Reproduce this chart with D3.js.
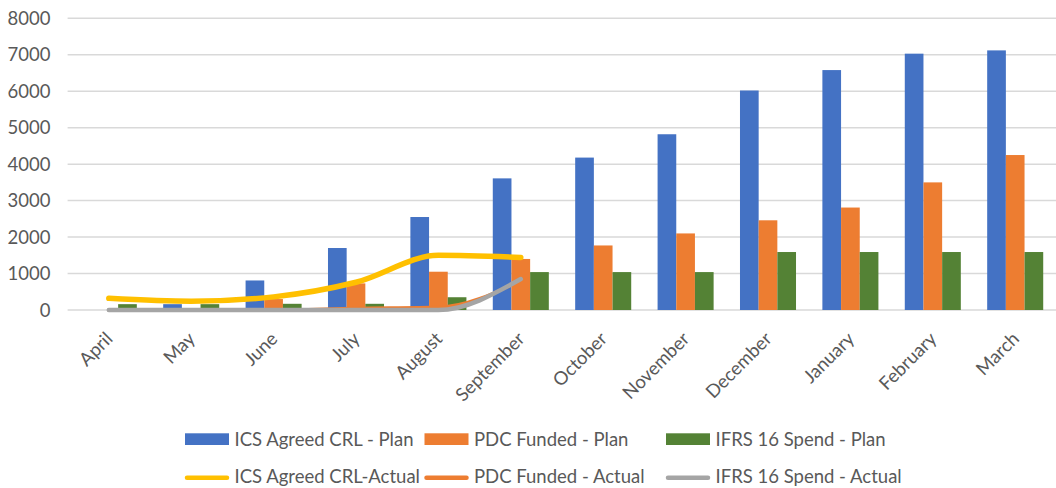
<!DOCTYPE html>
<html>
<head>
<meta charset="utf-8">
<script src="https://cdn.jsdelivr.net/npm/d3@7"></script>
<style>
  body { margin: 0; background: #fff; }
  text { font-family: Lato, "Liberation Sans", sans-serif; fill: #595959; }
</style>
</head>
<body>
<div class="canvas"></div>
<script>
const months = ['April', 'May', 'June', 'July', 'August', 'September', 'October',
                'November', 'December', 'January', 'February', 'March']

// plan series (bars)
const icsPlan = [0, 160, 810, 1700, 2550, 3610, 4180, 4820, 6020, 6580, 7030, 7120]
const pdcPlan = [0, 0, 300, 730, 1050, 1400, 1770, 2100, 2460, 2810, 3500, 4250]
const ifrsPlan = [160, 160, 170, 170, 350, 1040, 1040, 1040, 1590, 1590, 1590, 1590]

// actual series (lines, April - September only)
const icsActual = [320, 240, 360, 760, 1500, 1440]
const pdcActual = [0, 0, 0, 50, 80, 800]
const ifrsActual = [0, 0, 0, 0, 0, 850]

const yTicks = [0, 1000, 2000, 3000, 4000, 5000, 6000, 7000, 8000]

const barSeries = [
  {name: 'ICS Agreed CRL - Plan', values: icsPlan, color: '#4472C4'},
  {name: 'PDC Funded - Plan', values: pdcPlan, color: '#ED7D31'},
  {name: 'IFRS 16 Spend - Plan', values: ifrsPlan, color: '#548235'}
]
const lineSeries = [
  {name: 'ICS Agreed CRL-Actual', values: icsActual, color: '#FFC000', width: 5.5},
  {name: 'PDC Funded - Actual', values: pdcActual, color: '#ED7D31', width: 3},
  {name: 'IFRS 16 Spend - Actual', values: ifrsActual, color: '#A5A5A5', width: 4.5}
]

const dims = {width: 1056, height: 488}
const plot = {left: 67.6, right: 1056.4, top: 18.3, bottom: 310}

const svg = d3.select('.canvas').append('svg')
    .attr('width', dims.width)
    .attr('height', dims.height)

const y = d3.scaleLinear().domain([0, 8000]).range([plot.bottom, plot.top])

const x0 = d3.scaleBand()
    .domain(months)
    .range([plot.left, plot.right])
    .paddingInner(0.32)
    .paddingOuter(0.16)

const x1 = d3.scaleBand()
    .domain(barSeries.map(d => d.name))
    .range([0, x0.bandwidth()])

// gridlines
svg.append('g').selectAll('line')
    .data(yTicks)
    .enter()
      .append('line')
      .attr('x1', plot.left)
      .attr('x2', dims.width)
      .attr('y1', d => y(d))
      .attr('y2', d => y(d))
      .attr('stroke', '#D9D9D9')
      .attr('stroke-width', 1.5)

// y labels
svg.append('g').selectAll('text')
    .data(yTicks)
    .enter()
      .append('text')
      .text(d => d)
      .attr('x', 50.5)
      .attr('y', d => y(d))
      .attr('dy', '0.36em')
      .attr('text-anchor', 'end')
      .style('font-size', '18.5px')

// bars
const groups = svg.append('g').selectAll('g')
    .data(barSeries)
    .enter()
      .append('g')
      .attr('fill', d => d.color)

groups.selectAll('rect')
    .data(s => s.values.map((v, i) => ({name: s.name, month: months[i], value: v})))
    .enter()
      .append('rect')
      .attr('x', d => x0(d.month) + x1(d.name))
      .attr('width', x1.bandwidth())
      .attr('y', d => y(d.value))
      .attr('height', d => y(0) - y(d.value))

// lines
const cx = m => x0(m) + x0.bandwidth() / 2
const line = d3.line()
    .x((d, i) => cx(months[i]))
    .y(d => y(d))
    .curve(d3.curveMonotoneX)

// draw grey first, then orange, then yellow on top like the reference
svg.append('g').selectAll('path')
    .data([lineSeries[1], lineSeries[2], lineSeries[0]])
    .enter()
      .append('path')
      .attr('d', d => line(d.values))
      .attr('fill', 'none')
      .attr('stroke', d => d.color)
      .attr('stroke-width', d => d.width)
      .attr('stroke-linecap', 'round')
      .attr('stroke-linejoin', 'round')

// x labels
svg.append('g').selectAll('text')
    .data(months)
    .enter()
      .append('text')
      .text(d => d)
      .attr('text-anchor', 'end')
      .attr('transform', d => `translate(${cx(d) + 5}, 340) rotate(-45)`)
      .style('font-size', '18.5px')

// legend
const legendX = [185, 424.5, 666]
const legend = svg.append('g')

legend.selectAll('rect')
    .data(barSeries)
    .enter()
      .append('rect')
      .attr('x', (d, i) => legendX[i])
      .attr('y', 433.3)
      .attr('width', 44)
      .attr('height', 11.7)
      .attr('fill', d => d.color)

legend.selectAll('line')
    .data(lineSeries)
    .enter()
      .append('line')
      .attr('x1', (d, i) => legendX[i] + 2)
      .attr('x2', (d, i) => legendX[i] + 42)
      .attr('y1', 477.7)
      .attr('y2', 477.7)
      .attr('stroke', d => d.color)
      .attr('stroke-width', 4.5)
      .attr('stroke-linecap', 'round')

legend.selectAll('text.bar')
    .data(barSeries)
    .enter()
      .append('text')
      .attr('class', 'bar')
      .text(d => d.name)
      .attr('x', (d, i) => legendX[i] + 49.5)
      .attr('y', 446)
      .style('font-size', '18.5px')

legend.selectAll('text.line')
    .data(lineSeries)
    .enter()
      .append('text')
      .attr('class', 'line')
      .text(d => d.name)
      .attr('x', (d, i) => legendX[i] + 49.5)
      .attr('y', 483.3)
      .style('font-size', '18.5px')
</script>
</body>
</html>
